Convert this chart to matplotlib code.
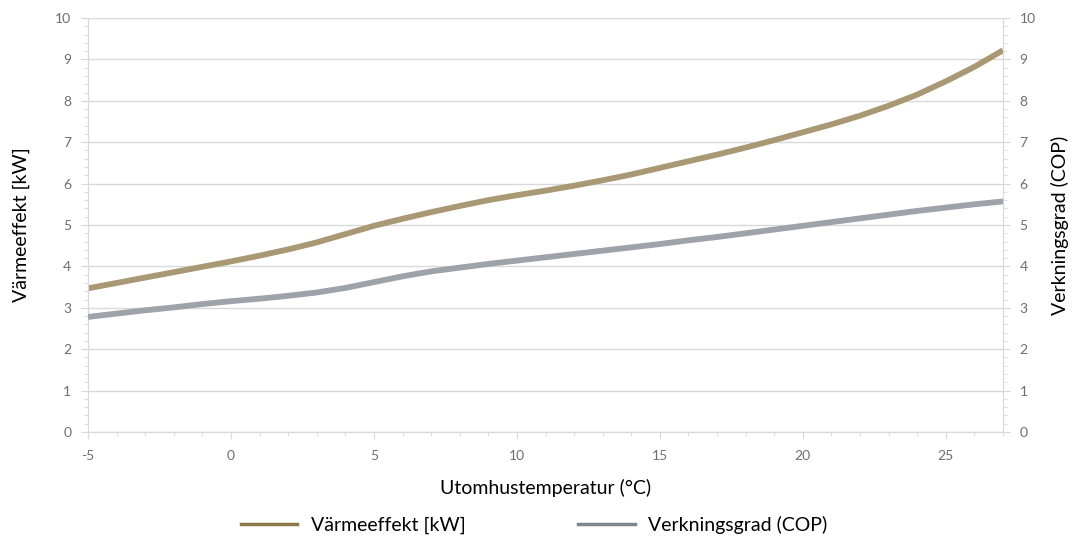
import numpy as np
import matplotlib.pyplot as plt
from matplotlib.ticker import MultipleLocator
from matplotlib.lines import Line2D

# outdoor temperature (°C)
temp = [-5, -4, -3, -2, -1, 0, 1, 2, 3, 4, 5, 6, 7, 8, 9, 10, 11, 12, 13, 14,
        15, 16, 17, 18, 19, 20, 21, 22, 23, 24, 25, 26, 27]
# heat output [kW]
heat_kw = [3.47, 3.60, 3.73, 3.86, 3.99, 4.12, 4.26, 4.41, 4.58, 4.78, 4.98,
           5.15, 5.31, 5.46, 5.60, 5.72, 5.83, 5.95, 6.08, 6.22, 6.38, 6.54,
           6.70, 6.87, 7.05, 7.24, 7.43, 7.64, 7.88, 8.15, 8.47, 8.82, 9.22]
# COP
cop = [2.78, 2.86, 2.94, 3.01, 3.09, 3.16, 3.22, 3.29, 3.37, 3.48, 3.62,
       3.76, 3.88, 3.97, 4.06, 4.14, 4.22, 4.30, 4.38, 4.46, 4.54, 4.63,
       4.71, 4.80, 4.89, 4.98, 5.07, 5.16, 5.25, 5.34, 5.42, 5.50, 5.57]

label_heat = "Värmeeffekt [kW]"
label_cop = "Verkningsgrad (COP)"
label_x = "Utomhustemperatur (°C)"

plt.rcParams['font.family'] = ['Lato', 'DejaVu Sans']
plt.rcParams['axes.unicode_minus'] = False

fig = plt.figure(figsize=(10.75, 5.41), dpi=100)
ax = fig.add_axes([88/1075, 1 - 432/541, (1003-88)/1075, (432-18)/541])
ax2 = ax.twinx()

heat_col = "#a99874"
cop_col = "#9da3a9"
grid_col = "#d9d9d9"
tick_col = "#6e6e6e"

ax.plot(temp, heat_kw, color=heat_col, lw=4.2, solid_capstyle="butt",
        solid_joinstyle="round", zorder=3)
ax2.plot(temp, cop, color=cop_col, lw=4.2, solid_capstyle="butt",
         solid_joinstyle="round", zorder=3)

for a in (ax, ax2):
    a.set_xlim(-5, 27)
    a.set_ylim(0, 10)
    a.yaxis.set_major_locator(MultipleLocator(1))
    a.yaxis.set_minor_locator(MultipleLocator(0.2))
    for s in a.spines.values():
        s.set_color(grid_col)
    a.spines["top"].set_visible(False)
    a.tick_params(which="both", color=grid_col, labelcolor=tick_col, labelsize=10)
    a.tick_params(which="major", length=5)
    a.tick_params(which="minor", length=3)
    a.tick_params(axis="y", which="both", pad=7)

ax.xaxis.set_major_locator(MultipleLocator(5))
ax.xaxis.set_minor_locator(MultipleLocator(1))
ax.tick_params(axis="x", which="both", pad=8)
ax.grid(axis="y", which="major", color=grid_col, lw=1)
ax.set_axisbelow(True)

ax.set_xlabel(label_x, fontsize=14, labelpad=12)
ax.set_ylabel(label_heat, fontsize=14, labelpad=18)
ax2.set_ylabel(label_cop, fontsize=14, labelpad=11)

handles = [Line2D([], [], color="#8c7848", lw=2.5),
           Line2D([], [], color="#7f878e", lw=2.5)]
fig.legend(handles, [label_heat, label_cop], loc="center",
           bbox_to_anchor=(0.497, 1 - 525/541), ncol=2, frameon=False,
           fontsize=14, handlelength=2.9, columnspacing=5.8, handletextpad=0.7)

fig.savefig("out.png", dpi=100)
